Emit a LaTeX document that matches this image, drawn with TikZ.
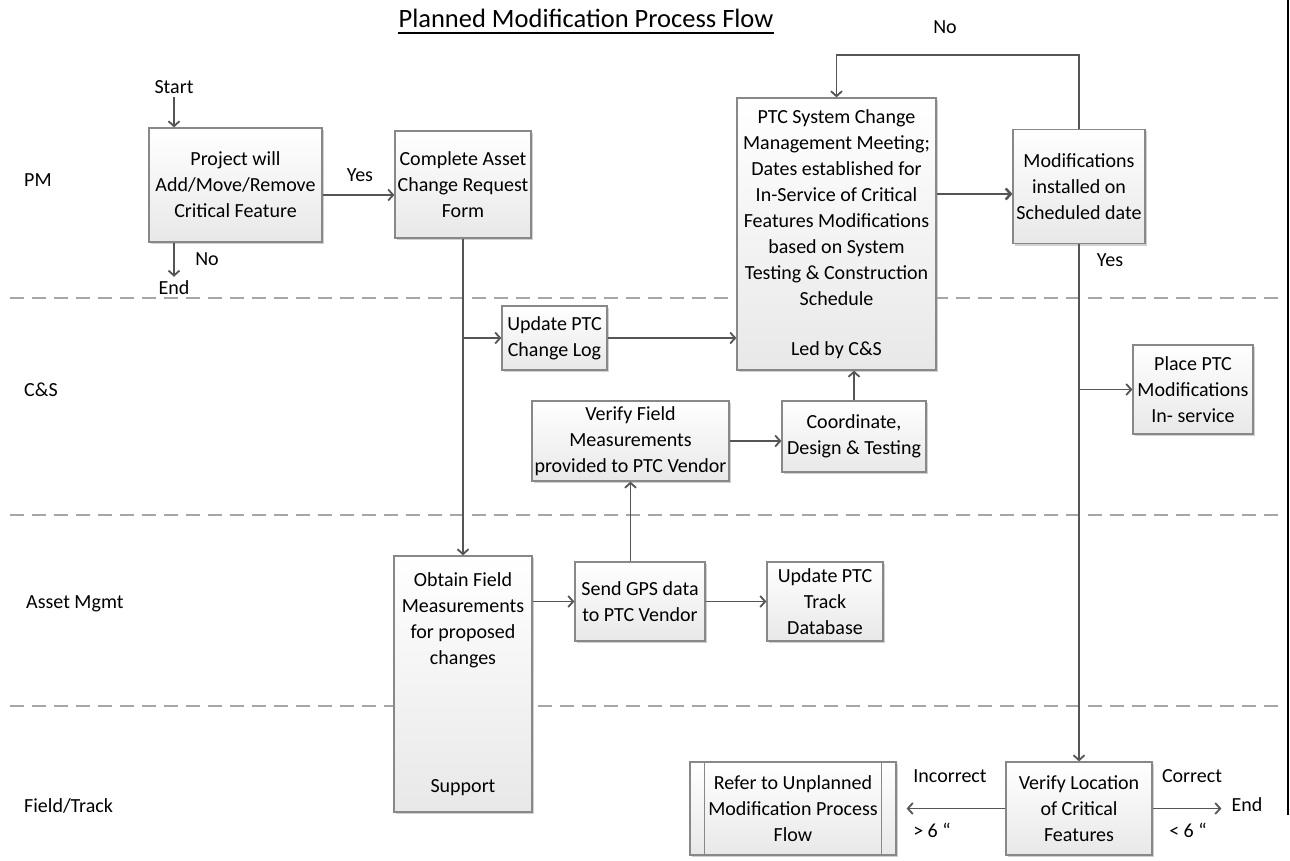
\documentclass[tikz,border=0pt]{standalone}
\usepackage{fontspec}
\setmainfont{Carlito}
\usetikzlibrary{arrows.meta,shadows,calc}
\definecolor{lin}{HTML}{555555}
\definecolor{bord}{HTML}{888888}
\definecolor{dashc}{HTML}{A6A6A6}
\begin{document}
\begin{tikzpicture}[x=1pt,y=-1pt,
  box/.style={draw=bord, line width=1.2pt, top color=white, bottom color=black!9,
    drop shadow={shadow xshift=2pt, shadow yshift=-2pt, fill=black!40, opacity=.45},
    inner sep=0pt, align=center, font=\fontsize{20}{26}\selectfont},
  lbl/.style={font=\fontsize{20}{26}\selectfont, inner sep=0pt},
  arr/.style={draw=lin, line width=1.8pt, -{Straight Barb[length=5pt,width=11pt]}},
  lane/.style={draw=dashc, line width=1.5pt, dash pattern=on 14pt off 8pt}]
\fill[white] (0,0) rectangle (1290,861);
\useasboundingbox (0,0) rectangle (1290,861);
% swimlane separators
\draw[lane] (10,298) -- (1283,298);
\draw[lane] (10,515) -- (1283,515);
\draw[lane] (10,706) -- (1283,706);
\draw[black, line width=1.5pt] (1288,0) -- (1288,815);
% title
\node[inner sep=0pt, font=\fontsize{26.5}{30}\selectfont] (title) at (586,18) {Planned Modification Process Flow};
\draw[line width=1.3pt] ([yshift=-6pt]title.base west) -- ([yshift=-6pt]title.base east);
% lane labels
\node[lbl, anchor=west] (lpm) at (24,180) {PM};
\node[lbl, anchor=west] (lcs) at (24,390) {C\&S};
\node[lbl, anchor=west] (lam) at (26,604) {Asset Mgmt};
\node[lbl, anchor=west] (lft) at (24,806) {Field/Track};
% boxes
\node[box, minimum width=173pt, minimum height=114pt] (b1) at (235.5,185) {Project will\\Add/Move/Remove\\Critical Feature};
\node[box, minimum width=136pt, minimum height=107pt] (b2) at (463,184.5) {Complete Asset\\Change Request\\Form};
\node[box, minimum width=199pt, minimum height=272pt] (b3) at (836.5,234) {PTC System Change\\Management Meeting;\\Dates established for\\In-Service of Critical\\Features Modifications\\based on System\\Testing \& Construction\\Schedule\\[24pt]Led by C\&S};
\node[box, minimum width=132pt, minimum height=114pt] (b4) at (1079,186.5) {Modifications\\installed on\\Scheduled date};
\node[box, minimum width=105pt, minimum height=64pt] (b5) at (554.5,338) {Update PTC\\Change Log};
\node[box, minimum width=120pt, minimum height=89pt] (b6) at (1193,389.5) {Place PTC\\Modifications\\In- service};
\node[box, minimum width=197pt, minimum height=80pt] (b7) at (630.5,441) {Verify Field\\Measurements\\provided to PTC Vendor};
\node[box, minimum width=144pt, minimum height=71pt] (b8) at (854,436.5) {Coordinate,\\Design \& Testing};
\node[box, minimum width=138pt, minimum height=256pt] (b9) at (463,684) {Obtain Field\\Measurements\\for proposed\\changes\\[102pt]Support};
\node[box, minimum width=130pt, minimum height=79pt] (b10) at (640,601.5) {Send GPS data\\to PTC Vendor};
\node[box, minimum width=116pt, minimum height=79pt] (b11) at (825,601.5) {Update PTC\\Track\\Database};
\node[box, minimum width=146pt, minimum height=93pt] (b12) at (1079,808.5) {Verify Location\\of Critical\\Features};
\node[box, minimum width=206pt, minimum height=93pt] (b13) at (793,808.5) {Refer to Unplanned\\Modification Process\\Flow};
\draw[bord, line width=1.2pt] ([xshift=15pt]b13.north west) -- ([xshift=15pt]b13.south west);
\draw[bord, line width=1.2pt] ([xshift=-15pt]b13.north east) -- ([xshift=-15pt]b13.south east);
% small labels
\node[lbl] (start) at (174,87) {Start};
\node[lbl] (endA) at (174,288) {End};
\node[lbl] (noA) at (207,259) {No};
\node[lbl] (yesA) at (360,175) {Yes};
\node[lbl] (noB) at (945,27) {No};
\node[lbl] (yesB) at (1110,260) {Yes};
\node[lbl] (incorrect) at (950,776) {Incorrect};
\node[lbl] (gt) at (932,830) {> 6 “};
\node[lbl] (correct) at (1192,776) {Correct};
\node[lbl] (lt) at (1188,830) {< 6 “};
\node[lbl] (endB) at (1247,805) {End};
% connectors
\coordinate (y195) at (0,195);
\coordinate (y194) at (0,194);
\draw[arr, shorten <=3pt] (start.south) -- (start.south |- b1.north);
\draw[arr, shorten >=4pt] (endA.north |- b1.south) -- (endA.north);
\draw[arr] (b1.east |- y195) -- (b2.west |- y195);
\draw[arr] (b2.south) -- (b9.north);
\draw[arr] (b2.south |- b5.west) -- (b5.west);
\draw[arr] (b5.east) -- (b3.west |- b5.east);
\draw[arr, line width=2.5pt] (b3.east |- y194) -- (b4.west |- y194);
\draw[arr] (b4.north) -- ++(0,-74) -| (b3.north);
\draw[arr] (b4.south) -- (b12.north);
\draw[arr] (b4.south |- b6.west) -- (b6.west);
\draw[arr] (b8.north) -- (b8.north |- b3.south);
\draw[arr] (b7.east) -- (b7.east -| b8.west);
\draw[arr] (b7.south |- b10.north) -- (b7.south);
\draw[arr] (b9.east |- b10.west) -- (b10.west);
\draw[arr] (b10.east) -- (b11.west);
\draw[arr, shorten >=10pt] (b12.west) -- (b13.east);
\draw[arr, shorten >=10pt] (b12.east) -- (b12.east -| endB.west);
\end{tikzpicture}
\end{document}
